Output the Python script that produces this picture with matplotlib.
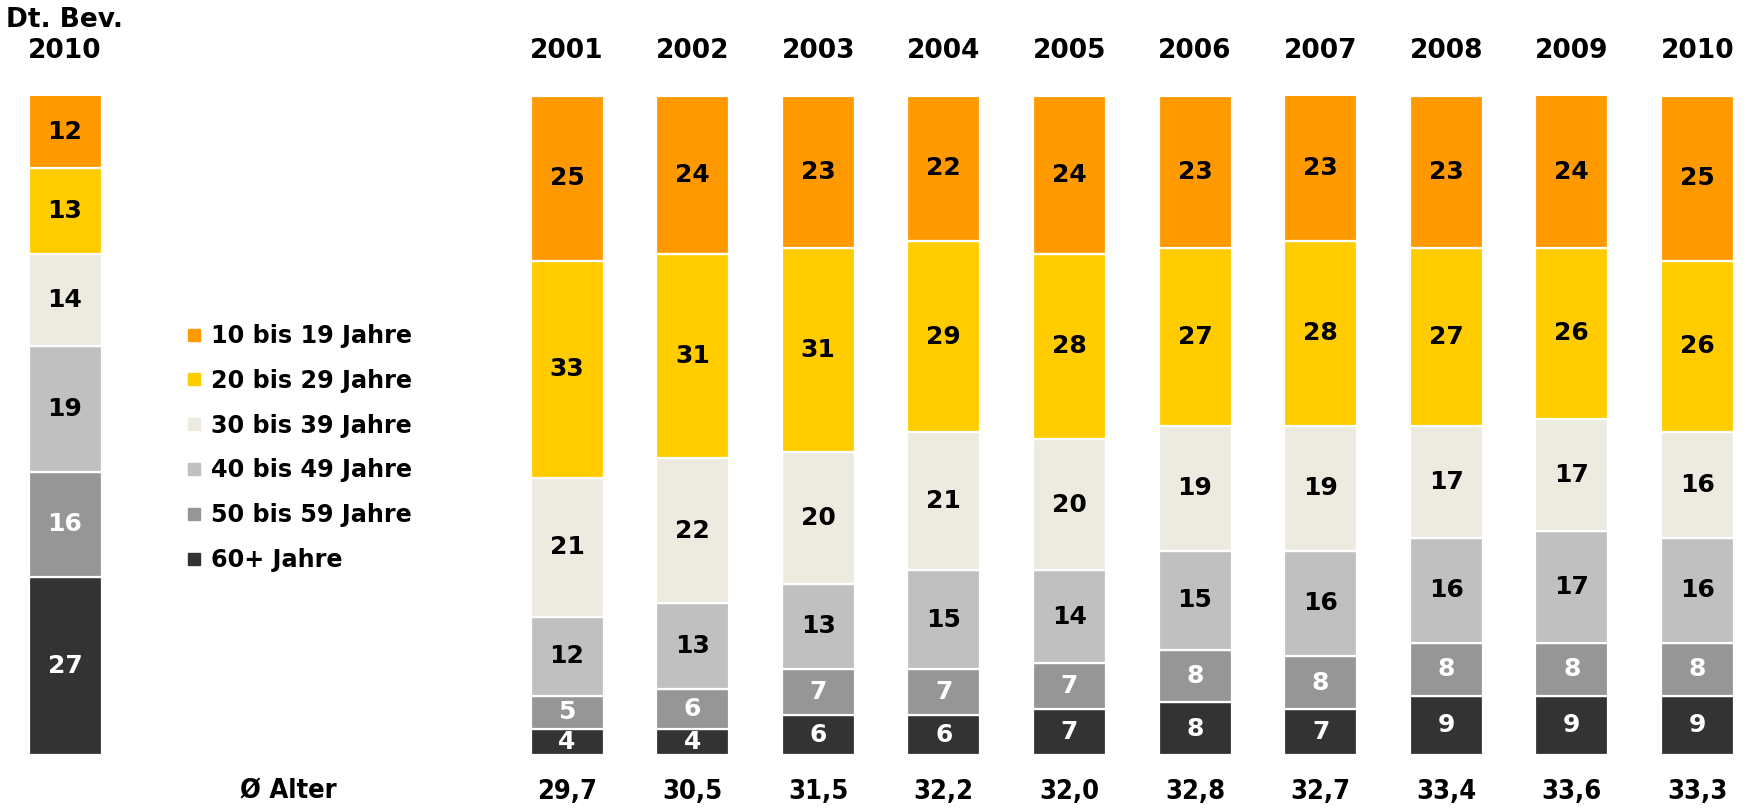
import matplotlib.pyplot as plt
from matplotlib.lines import Line2D
import numpy as np

# Age groups (bottom to top in each stack)
groups = ['60+ Jahre', '50 bis 59 Jahre', '40 bis 49 Jahre',
          '30 bis 39 Jahre', '20 bis 29 Jahre', '10 bis 19 Jahre']
colors = ['#333333', '#969696', '#c0c0c0', '#edebe0', '#ffcc00', '#ff9900']
text_colors = ['white', 'white', 'black', 'black', 'black', 'black']

years = ['2001', '2002', '2003', '2004', '2005', '2006', '2007', '2008', '2009', '2010']

age_60 = [4, 4, 6, 6, 7, 8, 7, 9, 9, 9]
age_50 = [5, 6, 7, 7, 7, 8, 8, 8, 8, 8]
age_40 = [12, 13, 13, 15, 14, 15, 16, 16, 17, 16]
age_30 = [21, 22, 20, 21, 20, 19, 19, 17, 17, 16]
age_20 = [33, 31, 31, 29, 28, 27, 28, 27, 26, 26]
age_10 = [25, 24, 23, 22, 24, 23, 23, 23, 24, 25]

# German population 2010 for comparison, same order
population_2010 = [27, 16, 19, 14, 13, 12]

avg_age = ['29,7', '30,5', '31,5', '32,2', '32,0', '32,8', '32,7', '33,4', '33,6', '33,3']

series = [age_60, age_50, age_40, age_30, age_20, age_10]

W, H = 1750, 808
fig = plt.figure(figsize=(W / 100, H / 100), dpi=100)
bar_bottom_px, bar_top_px = 755, 96
ax = fig.add_axes([0, 1 - bar_bottom_px / H, 1, (bar_bottom_px - bar_top_px) / H])
ax.set_xlim(0, W)
ax.set_ylim(0, 100)
ax.axis('off')

FONT = 'DejaVu Sans'
bar_w = 73
x_ref = 65
x_years = 567 + 125.6 * np.arange(len(years))

# reference bar
bottom = 0
for val, col, tcol in zip(population_2010, colors, text_colors):
    b = ax.bar([x_ref], [val], bottom=bottom, width=bar_w, color=col,
               edgecolor='white', linewidth=1.6)
    ax.bar_label(b, labels=[str(val)], label_type='center', color=tcol,
                 fontsize=18, fontweight='bold', family=FONT)
    bottom += val

# yearly stacks
bottom = np.zeros(len(years))
for vals, col, tcol in zip(series, colors, text_colors):
    b = ax.bar(x_years, vals, bottom=bottom, width=bar_w, color=col,
               edgecolor='white', linewidth=1.6)
    ax.bar_label(b, labels=[str(v) for v in vals], label_type='center',
                 color=tcol, fontsize=18, fontweight='bold', family=FONT)
    bottom += np.array(vals)

# column headers
for x, yr in zip(x_years, years):
    ax.text(x, 106.9, yr, ha='center', va='center', fontsize=19,
            fontweight='bold', family=FONT, clip_on=False)
ax.text(x_ref, 106.9, '2010', ha='center', va='center', fontsize=19,
        fontweight='bold', family=FONT, clip_on=False)
ax.text(x_ref, 111.5, 'Dt. Bev.', ha='center', va='center', fontsize=19,
        fontweight='bold', family=FONT, clip_on=False)

# average age row
ax.text(288, -5.6, 'Ø Alter', ha='center', va='center', fontsize=19.5,
        fontweight='bold', family=FONT, fontstretch='condensed', clip_on=False)
for x, a in zip(x_years, avg_age):
    ax.text(x, -5.6, a, ha='center', va='center', fontsize=19.5,
            fontweight='bold', family=FONT, fontstretch='condensed', clip_on=False)

# legend, youngest group first
handles = [Line2D([], [], marker='s', linestyle='none', markersize=8.5,
                  markerfacecolor=c, markeredgecolor=c)
           for c in colors[::-1]]
ax.legend(handles, groups[::-1], loc='upper left',
          bbox_to_anchor=(187 / W, 1 - 324 / H), bbox_transform=fig.transFigure,
          frameon=False, handlelength=0.55, handletextpad=0.45, labelspacing=0.87,
          borderaxespad=0, borderpad=0,
          prop={'family': FONT, 'weight': 'bold', 'size': 17.2})

fig.savefig('out.png', dpi=100)
